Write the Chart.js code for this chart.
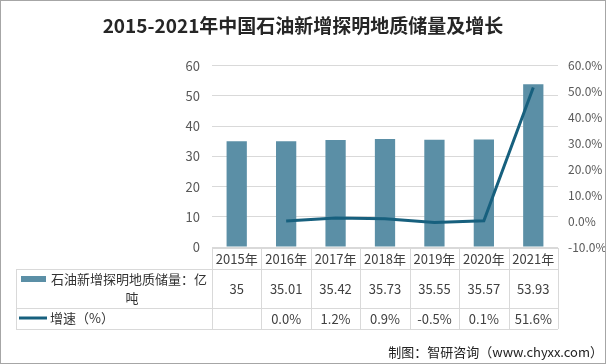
<!DOCTYPE html>
<html>
<head>
<meta charset="utf-8">
<script src="https://cdn.jsdelivr.net/npm/chart.js@4/dist/chart.umd.min.js"></script>
<style>
  html, body { margin: 0; padding: 0; background: #ffffff; }
  #wrap { width: 606px; height: 364px; }
</style>
</head>
<body>
<div id="wrap"><canvas id="oilChart" width="606" height="364"></canvas></div>
<script>
const years = ["2015年", "2016年", "2017年", "2018年", "2019年", "2020年", "2021年"];
const reserves = [35, 35.01, 35.42, 35.73, 35.55, 35.57, 53.93];
const growth = [null, 0.0, 1.2, 0.9, -0.5, 0.1, 51.6];
const reserveLabels = ["35", "35.01", "35.42", "35.73", "35.55", "35.57", "53.93"];
const growthLabels = ["", "0.0%", "1.2%", "0.9%", "-0.5%", "0.1%", "51.6%"];

const FONT = "'Noto Sans CJK SC', 'Noto Sans', sans-serif";
const barColor = "#5b8fa6";
const lineColor = "#17607e";
const gridColor = "#d9d9d9";

// data table under the plot + legend keys + footer + frame
const tablePlugin = {
  id: "dataTable",
  afterDraw(chart) {
    const ctx = chart.ctx;
    const x = chart.scales.x;
    const area = chart.chartArea;
    const left = 16, top = 248, row1 = 269, row2 = 308, bottom = 329;
    const n = years.length;
    const step = (area.right - area.left) / n;
    ctx.save();
    ctx.strokeStyle = gridColor;
    ctx.lineWidth = 1;
    ctx.beginPath();
    ctx.moveTo(area.left, top + 0.5); ctx.lineTo(area.right, top + 0.5);
    [row1, row2, bottom].forEach(y => { ctx.moveTo(left, y + 0.5); ctx.lineTo(area.right, y + 0.5); });
    for (let i = 0; i <= n; i++) {
      const cx = Math.round(area.left + i * step) + 0.5;
      ctx.moveTo(cx, top); ctx.lineTo(cx, bottom);
    }
    ctx.moveTo(left + 0.5, row1); ctx.lineTo(left + 0.5, bottom);
    ctx.stroke();

    // legend keys
    ctx.fillStyle = barColor;
    ctx.fillRect(21, 276, 25, 6);
    ctx.strokeStyle = lineColor;
    ctx.lineWidth = 3;
    ctx.beginPath(); ctx.moveTo(19, 318); ctx.lineTo(47, 318); ctx.stroke();

    ctx.fillStyle = "#333333";
    ctx.font = "13px " + FONT;
    ctx.textBaseline = "middle";
    ctx.textAlign = "left";
    ctx.fillText("石油新增探明地质储量：亿", 51, 279);
    ctx.textAlign = "center";
    ctx.fillText("吨", 132, 298);
    ctx.textAlign = "left";
    ctx.fillText("增速（%）", 50, 318);

    // values
    ctx.fillStyle = "#404040";
    ctx.textAlign = "center";
    for (let i = 0; i < n; i++) {
      const cx = x.getPixelForValue(i);
      ctx.fillText(reserveLabels[i], cx, 289);
      ctx.fillText(growthLabels[i], cx, 319);
    }

    // footer
    ctx.fillStyle = "#222222";
    ctx.font = "13px " + FONT;
    ctx.textAlign = "right";
    ctx.fillText("制图：智研咨询（www.chyxx.com）", 603, 352);

    // outer frame
    ctx.strokeStyle = "#a6a6a6";
    ctx.lineWidth = 1;
    ctx.strokeRect(0.5, 0.5, 605, 363);
    ctx.restore();
  }
};

const oilChart = new Chart(document.getElementById("oilChart"), {
  data: {
    labels: years,
    datasets: [{
      type: "line",
      label: "增速（%）",
      data: growth,
      yAxisID: "y1",
      borderColor: lineColor,
      borderWidth: 3,
      fill: false,
      tension: 0,
      pointRadius: 0,
      spanGaps: false,
      order: 0
    }, {
      type: "bar",
      label: "石油新增探明地质储量：亿吨",
      data: reserves,
      yAxisID: "y",
      backgroundColor: barColor,
      categoryPercentage: 1,
      barPercentage: 0.41,
      order: 1
    }]
  },
  options: {
    responsive: false,
    animation: false,
    layout: { padding: 0 },
    plugins: {
      legend: { display: false },
      tooltip: { enabled: false },
      title: {
        display: true,
        text: "2015-2021年中国石油新增探明地质储量及增长",
        color: "#262626",
        font: { family: FONT, size: 19, weight: "bold", lineHeight: 1.2 },
        padding: { top: 14, bottom: 29 }
      }
    },
    scales: {
      x: {
        grid: { display: false, drawTicks: false },
        border: { display: false },
        ticks: { color: "#404040", font: { family: FONT, size: 13 }, padding: 4, maxRotation: 0, autoSkip: false },
        afterFit(scale) { scale.height = 117; }
      },
      y: {
        position: "left",
        min: 0, max: 60,
        ticks: { stepSize: 10, color: "#595959", font: { family: FONT, size: 13 }, padding: 12 },
        grid: { color: gridColor, drawTicks: false },
        border: { display: false },
        afterFit(scale) { scale.width = 212; }
      },
      y1: {
        position: "right",
        min: -10, max: 60,
        ticks: { stepSize: 10, color: "#595959", font: { family: FONT, size: 12 }, padding: 10,
          callback: v => v.toFixed(1) + "%" },
        grid: { display: false, drawTicks: false },
        border: { display: false },
        afterFit(scale) { scale.width = 48; }
      }
    }
  },
  plugins: [tablePlugin]
});
</script>
</body>
</html>
